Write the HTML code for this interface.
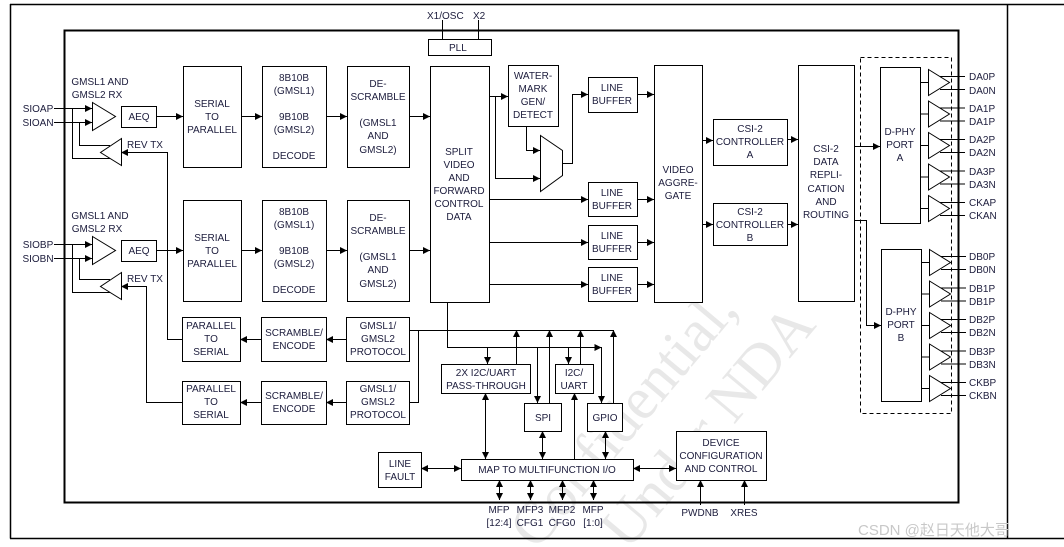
<!DOCTYPE html>
<html><head><meta charset="utf-8"><style>
html,body{margin:0;padding:0;background:#fff;width:1064px;height:547px;overflow:hidden;}
svg{display:block;}
text{font-family:"Liberation Sans",Arial,sans-serif;font-size:10px;fill:#1c1c3c;}
.wm{font-family:"Liberation Serif",serif;font-size:60px;fill:#e8e8e8;}
</style></head><body>
<svg width="1064" height="547" viewBox="0 0 1064 547" xmlns="http://www.w3.org/2000/svg">
<defs>
<marker id="a" viewBox="0 0 10 10" refX="10" refY="5" markerWidth="7" markerHeight="7" markerUnits="userSpaceOnUse" orient="auto"><path d="M0,0 L10,5 L0,10z" fill="#000"/></marker>
<marker id="s" viewBox="0 0 10 10" refX="0" refY="5" markerWidth="7" markerHeight="7" markerUnits="userSpaceOnUse" orient="auto"><path d="M10,0 L0,5 L10,10z" fill="#000"/></marker>
</defs>
<g transform="rotate(-50 660 420)">
<text class="wm" x="480" y="410">Confidential,</text>
<text class="wm" x="480" y="480">rs Under NDA</text>
</g>
<g fill="none" stroke="#000" stroke-width="1">
<path d="M10,4.5 H1064 M10.5,4 V538.5 M1007.5,4 V538 M10,538.5 H1064" stroke-width="1.5"/>
<rect x="64.5" y="30.5" width="894" height="472" stroke-width="2"/>
<rect x="428.5" y="39.5" width="63" height="16"/>
<path d="M442.5,20 V39 M478.5,20 V39"/>
</g>
<text x="427" y="19">X1/OSC</text><text x="473" y="19">X2</text>
<text x="449" y="51">PLL</text>

<g fill="none" stroke="#000" stroke-width="1" marker-end="url(#a)">
<path d="M54,108.5 H92"/><path d="M54,122.5 H92"/>
<path d="M156,116.5 H183"/><path d="M241,116.5 H262"/><path d="M326,116.5 H347"/><path d="M409,116.5 H430"/>
<path d="M54,244.5 H92"/><path d="M54,258.5 H92"/>
<path d="M156,250.5 H183"/><path d="M241,250.5 H262"/><path d="M326,250.5 H347"/><path d="M409,250.5 H430"/>
<path d="M182,339.5 H167.5 V152.5 H121"/>
<path d="M182,402.5 H146.5 V286.5 H121"/>
<path d="M261,339.5 H240"/><path d="M346,339.5 H326"/>
<path d="M261,402.5 H240"/><path d="M346,402.5 H326"/>
<path d="M489,96.5 H508"/>
<path d="M495.5,96.5 V178.5 H540"/>
<path d="M526.5,126 V150.5 H540"/>
<path d="M562,163.5 H572.5 V94.5 H588"/>
<path d="M637,94.5 H654"/>
<path d="M489,199.5 H588"/><path d="M489,242.5 H588"/><path d="M489,284.5 H588"/>
<path d="M637,199.5 H654"/><path d="M637,242.5 H654"/><path d="M637,284.5 H654"/>
<path d="M702,140.5 H713"/><path d="M702,224.5 H713"/>
<path d="M787,139.5 H798"/><path d="M787,224.5 H798"/>
<path d="M854,146.5 H880"/>
<path d="M854,220.5 H866.5 V325.5 H881"/>
<path d="M447.5,302 V347.5 H601.5"/>
<path d="M487.5,347 V364"/><path d="M568.5,347 V364"/>
<path d="M537.5,347 V403"/><path d="M601.5,347 V403"/>
<path d="M516.5,364 V330"/><path d="M549.5,403 V330"/><path d="M580.5,364 V330"/><path d="M613.5,403 V330"/>
<path d="M574.5,459 V393"/>
<path d="M700.5,505 V480"/><path d="M744.5,505 V480"/>
</g>
<g fill="none" stroke="#000" stroke-width="1">
<path d="M409,330.5 H613"/><path d="M409,402.5 H418.5 V330.5"/>
<path d="M72.5,108.5 V158.5 H110"/><path d="M79.5,122.5 V145.5 H110"/>
<path d="M72.5,244.5 V292.5 H110"/><path d="M79.5,258.5 V279.5 H110"/>
</g>
<g fill="none" stroke="#000" stroke-width="1" marker-start="url(#s)" marker-end="url(#a)">
<path d="M485.5,393 V459"/><path d="M542.5,431 V459"/><path d="M605.5,431 V459"/>
<path d="M421,468.5 H461"/><path d="M633,468.5 H676"/>
<path d="M499.5,480 V500"/><path d="M530.5,480 V500"/><path d="M562.5,480 V500"/><path d="M593.5,480 V500"/>
</g>

<g fill="#fff" stroke="#000" stroke-width="1">
<path d="M92.5,102.5 L115.5,116.5 L92.5,130.5z"/>
<path d="M121.5,138.5 L100.5,152.5 L121.5,165.5z"/>
<path d="M92.5,236.5 L115.5,250.5 L92.5,264.5z"/>
<path d="M121.5,272.5 L100.5,286.5 L121.5,299.5z"/>
<rect x="121.5" y="106.5" width="35" height="21"/>
<rect x="121.5" y="240.5" width="35" height="21"/>
<rect x="183.5" y="66.5" width="58" height="101"/><rect x="262.5" y="66.5" width="64" height="101"/><rect x="347.5" y="66.5" width="62" height="101"/>
<rect x="183.5" y="200.5" width="58" height="101"/><rect x="262.5" y="200.5" width="64" height="101"/><rect x="347.5" y="200.5" width="62" height="101"/>
<rect x="430.5" y="66.5" width="59" height="236"/>
<rect x="508.5" y="65.5" width="50" height="61"/>
<path d="M540.5,135.5 L562.5,150.5 L562.5,175.5 L540.5,191.5z"/>
<rect x="588.5" y="77.5" width="49" height="35"/>
<rect x="588.5" y="182.5" width="49" height="34"/><rect x="588.5" y="225.5" width="49" height="34"/><rect x="588.5" y="267.5" width="49" height="34"/>
<rect x="654.5" y="65.5" width="48" height="237"/>
<rect x="713.5" y="119.5" width="74" height="46"/><rect x="713.5" y="203.5" width="74" height="42"/>
<rect x="798.5" y="65.5" width="56" height="236"/>
<rect x="860.5" y="57.5" width="91" height="356" fill="none" stroke-dasharray="4,3"/>
<rect x="880.5" y="67.5" width="40" height="156"/><rect x="881.5" y="249.5" width="40" height="152"/>
<rect x="182.5" y="317.5" width="58" height="44"/><rect x="261.5" y="317.5" width="65" height="44"/><rect x="346.5" y="317.5" width="63" height="44"/>
<rect x="182.5" y="381.5" width="58" height="43"/><rect x="261.5" y="381.5" width="65" height="43"/><rect x="346.5" y="381.5" width="63" height="43"/>
<rect x="441.5" y="364.5" width="89" height="29"/><rect x="555.5" y="364.5" width="38" height="29"/>
<rect x="524.5" y="403.5" width="37" height="28"/><rect x="587.5" y="403.5" width="35" height="28"/>
<rect x="461.5" y="459.5" width="172" height="21"/>
<rect x="378.5" y="452.5" width="43" height="35"/>
<rect x="676.5" y="431.5" width="90" height="49"/>
</g>

<g fill="none" stroke="#000" stroke-width="1">
<g id="drv">
<path d="M920,82.5 H928"/><path d="M928.5,69.5 L949.5,82.5 L928.5,95.5z" fill="#fff"/>
<path d="M940,76.5 H965 M940,89.5 H965"/>
</g>
<use href="#drv" y="31.5"/><use href="#drv" y="63"/><use href="#drv" y="94.5"/><use href="#drv" y="126"/>
<use href="#drv" y="180" x="1"/><use href="#drv" y="211.5" x="1"/><use href="#drv" y="243" x="1"/><use href="#drv" y="274.5" x="1"/><use href="#drv" y="306" x="1"/>
</g>
<g>
<text x="969" y="80">DA0P</text><text x="969" y="94">DA0N</text>
<text x="969" y="112">DA1P</text><text x="969" y="125">DA1P</text>
<text x="969" y="143">DA2P</text><text x="969" y="156">DA2N</text>
<text x="969" y="175">DA3P</text><text x="969" y="188">DA3N</text>
<text x="969" y="206">CKAP</text><text x="969" y="219">CKAN</text>
<text x="969" y="260">DB0P</text><text x="969" y="273">DB0N</text>
<text x="969" y="292">DB1P</text><text x="969" y="305">DB1P</text>
<text x="969" y="323">DB2P</text><text x="969" y="336">DB2N</text>
<text x="969" y="355">DB3P</text><text x="969" y="368">DB3N</text>
<text x="969" y="386">CKBP</text><text x="969" y="399">CKBN</text>
</g>

<g text-anchor="middle">
<text x="100" y="85">GMSL1 AND</text><text x="97" y="98">GMSL2 RX</text>
<text x="100" y="219">GMSL1 AND</text><text x="97" y="232">GMSL2 RX</text>
<text x="38" y="112">SIOAP</text><text x="38" y="126">SIOAN</text>
<text x="38" y="248">SIOBP</text><text x="38" y="262">SIOBN</text>
<text x="145" y="148">REV TX</text><text x="145" y="282">REV TX</text>
<text x="139" y="120">AEQ</text><text x="139" y="254">AEQ</text>
<g id="rowA">
<text x="212" y="107">SERIAL</text><text x="212" y="120">TO</text><text x="212" y="133">PARALLEL</text>
<text x="294" y="81">8B10B</text><text x="294" y="94">(GMSL1)</text><text x="294" y="120">9B10B</text><text x="294" y="133">(GMSL2)</text><text x="294" y="159">DECODE</text>
<text x="378" y="87">DE-</text><text x="378" y="100">SCRAMBLE</text><text x="378" y="126">(GMSL1</text><text x="378" y="139">AND</text><text x="378" y="153">GMSL2)</text>
</g>
<use href="#rowA" y="134"/>
<text x="459" y="155">SPLIT</text><text x="459" y="168">VIDEO</text><text x="459" y="181">AND</text><text x="459" y="194">FORWARD</text><text x="459" y="207">CONTROL</text><text x="459" y="220">DATA</text>
<text x="533" y="79">WATER-</text><text x="533" y="92">MARK</text><text x="533" y="105">GEN/</text><text x="533" y="118">DETECT</text>
<g id="lb"><text x="612" y="91">LINE</text><text x="612" y="104">BUFFER</text></g>
<use href="#lb" y="105"/><use href="#lb" y="148"/><use href="#lb" y="190"/>
<text x="678" y="173">VIDEO</text><text x="678" y="186">AGGRE-</text><text x="678" y="199">GATE</text>
<text x="750" y="132">CSI-2</text><text x="750" y="145">CONTROLLER</text><text x="750" y="158">A</text>
<text x="750" y="215">CSI-2</text><text x="750" y="228">CONTROLLER</text><text x="750" y="241">B</text>
<text x="826" y="152">CSI-2</text><text x="826" y="165">DATA</text><text x="826" y="178">REPLI-</text><text x="826" y="192">CATION</text><text x="826" y="205">AND</text><text x="826" y="218">ROUTING</text>
<text x="900" y="135">D-PHY</text><text x="900" y="148">PORT</text><text x="900" y="161">A</text>
<text x="901" y="315">D-PHY</text><text x="901" y="328">PORT</text><text x="901" y="341">B</text>
<g id="p2s"><text x="211" y="329">PARALLEL</text><text x="211" y="342">TO</text><text x="211" y="355">SERIAL</text>
<text x="294" y="336">SCRAMBLE/</text><text x="294" y="349">ENCODE</text>
<text x="378" y="329">GMSL1/</text><text x="378" y="342">GMSL2</text><text x="378" y="355">PROTOCOL</text></g>
<use href="#p2s" y="63"/>
<text x="486" y="376">2X I2C/UART</text><text x="486" y="389">PASS-THROUGH</text>
<text x="574" y="376">I2C/</text><text x="574" y="389">UART</text>
<text x="543" y="421">SPI</text><text x="605" y="421">GPIO</text>
<text x="547" y="473">MAP TO MULTIFUNCTION I/O</text>
<text x="400" y="467">LINE</text><text x="400" y="480">FAULT</text>
<text x="721" y="446">DEVICE</text><text x="721" y="459">CONFIGURATION</text><text x="721" y="472">AND CONTROL</text>
<text x="499" y="513">MFP</text><text x="499" y="526">[12:4]</text>
<text x="530" y="513">MFP3</text><text x="530" y="526">CFG1</text>
<text x="562" y="513">MFP2</text><text x="562" y="526">CFG0</text>
<text x="593" y="513">MFP</text><text x="593" y="526">[1:0]</text>
<text x="700" y="516">PWDNB</text><text x="744" y="516">XRES</text>
</g>
<text x="858" y="535" style="font-family:'Liberation Sans','Noto Sans CJK SC',sans-serif;font-size:15px;fill:#c8c8c8">CSDN @赵日天他大哥</text>
</svg>
</body></html>
